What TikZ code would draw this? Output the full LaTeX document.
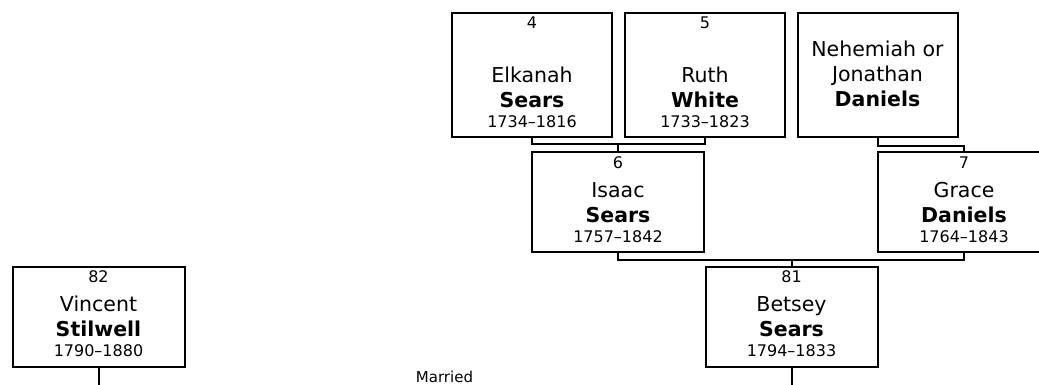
\documentclass[tikz,border=0pt]{standalone}
\usepackage{fontspec}
\setmainfont{DejaVu Sans}
\usepackage{tikz}
\usetikzlibrary{calc}

\begin{document}
\begin{tikzpicture}[
      x=1pt, y=-1pt,
      person/.style={draw, line width=2pt, inner sep=0pt, minimum width=172pt,
                     minimum height=100pt},
      topbox/.style={person, minimum width=160pt, minimum height=124pt},
      num/.style={anchor=base, inner sep=0pt, font=\fontsize{16}{19}\selectfont},
      who/.style={anchor=south, inner sep=0pt, align=center,
                  font=\fontsize{20.5}{25}\selectfont},
      link/.style={line width=2pt},
      yrs/.style={font=\fontsize{16}{19}\selectfont}]

    \useasboundingbox (0,0) rectangle (1039,385);

    % great-grandparents
    \node[topbox] (p4) at (532,75) {};
    \node[topbox] (p5) at (705,75) {};
    \node[topbox] (pn) at (877.5,75) {};
    \node[num] (n4) at ($(p4.north)+(0,17)$) {4};
    \node[num] (n5) at ($(p5.north)+(0,17)$) {5};
    \node[who] (t4) at ($(p4.south)+(0,-10.5)$)
      {Elkanah\\\textbf{Sears}\\[-5pt]{\fontsize{16}{19}\selectfont 1734--1816}};
    \node[who] (t5) at ($(p5.south)+(0,-10.5)$)
      {Ruth\\\textbf{White}\\[-5pt]{\fontsize{16}{19}\selectfont 1733--1823}};
    \node[who] (tn) at ($(pn.south)+(0,-31)$)
      {Nehemiah or\\Jonathan\\\textbf{Daniels}};

    % grandparents
    \node[person] (p6) at (618,202) {};
    \node[person] (p7) at (964,202) {};
    \node[num] (n6) at ($(p6.north)+(0,17)$) {6};
    \node[num] (n7) at ($(p7.north)+(0,17)$) {7};
    \node[who] (t6) at ($(p6.south)+(0,-10.5)$)
      {Isaac\\\textbf{Sears}\\[-5pt]{\fontsize{16}{19}\selectfont 1757--1842}};
    \node[who] (t7) at ($(p7.south)+(0,-10.5)$)
      {Grace\\\textbf{Daniels}\\[-5pt]{\fontsize{16}{19}\selectfont 1764--1843}};

    % the couple
    \node[person] (p81) at (791.5,316.5) {};
    \node[person] (p82) at (98.5,316.5) {};
    \node[num] (n81) at ($(p81.north)+(0,16.5)$) {81};
    \node[num] (n82) at ($(p82.north)+(0,16.5)$) {82};
    \node[who] (t81) at ($(p81.south)+(0,-10.5)$)
      {Betsey\\\textbf{Sears}\\[-5pt]{\fontsize{16}{19}\selectfont 1794--1833}};
    \node[who] (t82) at ($(p82.south)+(0,-10.5)$)
      {Vincent\\\textbf{Stilwell}\\[-5pt]{\fontsize{16}{19}\selectfont 1790--1880}};
    \node[anchor=base, inner sep=0pt, font=\fontsize{15}{18}\selectfont] (mar)
      at (444.5,382.5) {Married};

    \coordinate (bot) at (0,386);

    \draw[link] (p4.south) -- ++(0,6) coordinate (b45) -| (p5.south);
    \draw[link] (p6.north) -- (p6.north |- b45);
    \draw[link] (pn.south) -- ++(0,8) -| (p7.north);
    \draw[link] (p6.south) -- ++(0,7) coordinate (b67) -| (p7.south);
    \draw[link] (p81.north) -- (p81.north |- b67);
    \draw[link] (p81.south) -- (p81.south |- bot);
    \draw[link] (p82.south) -- (p82.south |- bot);
  \end{tikzpicture}
\end{document}
